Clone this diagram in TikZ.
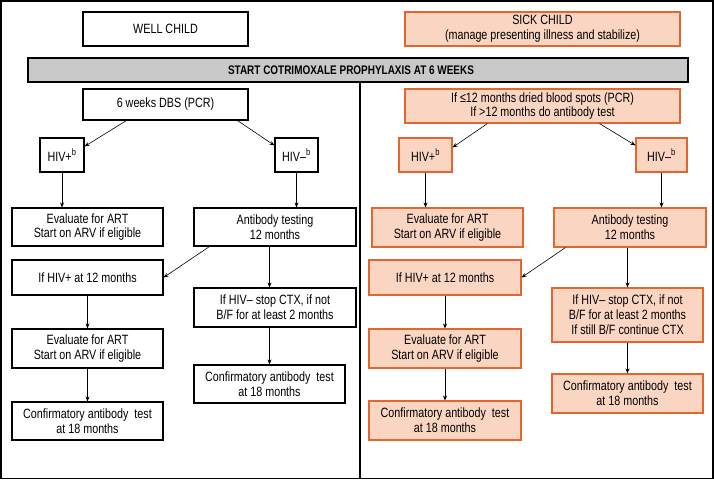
\documentclass[tikz,border=0pt]{standalone}
\usepackage{fontspec}
\setmainfont{Liberation Sans}[FakeStretch=0.8]
\usetikzlibrary{arrows.meta,calc}
\definecolor{sickfill}{HTML}{FAD6C2}
\definecolor{sickline}{HTML}{E2662E}
\definecolor{bannerfill}{HTML}{C9C9C9}
\begin{document}
\begin{tikzpicture}[x=1bp,y=-1bp,
  font=\fontsize{13.5}{15}\selectfont,
  wbox/.style={draw=black,line width=1.1pt,fill=white,align=center,inner sep=0pt},
  sbox/.style={draw=sickline,line width=1.1pt,fill=sickfill,align=center,inner sep=0pt},
  sz/.style 2 args={minimum width=#1bp,minimum height=#2bp},
  arr/.style={-{Stealth[length=5pt,width=4pt]},line width=0.6pt}]
\path[use as bounding box] (0,0) rectangle (714,480);
% frame and divider
\draw[line width=1.5pt] (1,1) rectangle (713,478.5);
\coordinate (divtop) at (360,82);
\coordinate (divbot) at (360,479);
\draw[line width=1.2pt] (divtop) -- (divbot);
% banner
\node[draw=black,line width=1.1pt,fill=bannerfill,sz={660}{24},font=\fontsize{12.5}{14}\selectfont\bfseries] (banner) at (358,70) {START COTRIMOXALE PROPHYLAXIS AT 6 WEEKS\hspace*{14bp}};
% left column
\node[wbox,sz={165}{34}] (well) at (165.5,29) {WELL CHILD};
\node[wbox,sz={165}{31}] (dbsL) at (165.5,104.5) {6 weeks DBS (PCR)};
\node[wbox,sz={44}{34}] (hivpL) at (62,155) {HIV+\textsuperscript{b}};
\node[wbox,sz={43}{34}] (hivmL) at (296.5,155) {HIV–\textsuperscript{b}};
\node[wbox,sz={151}{38}] (evalL) at (87.5,227) {Evaluate for ART\\Start on ARV if eligible};
\node[wbox,sz={162}{38}] (abL) at (275,227) {Antibody testing\\12 months};
\node[wbox,sz={151}{35}] (hiv12L) at (87.5,277.5) {If HIV+ at 12 months};
\node[wbox,sz={162}{39}] (ctxL) at (275,307.5) {If HIV– stop CTX, if not\\B/F for at least 2 months};
\node[wbox,sz={151}{39}] (eval2L) at (87.5,348.5) {Evaluate for ART\\Start on ARV if eligible};
\node[wbox,sz={151}{38}] (confL) at (87.5,421) {Confirmatory antibody~ test\\at 18 months};
\node[wbox,sz={151}{38}] (confRL) at (269.5,384) {Confirmatory antibody~ test\\at 18 months};
% right column
\node[sbox,sz={275}{34}] (sick) at (542.5,29) {SICK CHILD\\(manage presenting illness and stabilize)};
\node[sbox,sz={275}{34}] (pcr) at (542.5,106) {If ≤12 months dried blood spots (PCR)\\If >12 months do antibody test};
\node[sbox,sz={53}{34}] (hivpR) at (425.5,155) {HIV+\textsuperscript{b}};
\node[sbox,sz={51}{34}] (hivmR) at (661.5,155) {HIV–\textsuperscript{b}};
\node[sbox,sz={151}{39}] (evalR) at (447.5,227.5) {Evaluate for ART\\Start on ARV if eligible};
\node[sbox,sz={152}{39}] (abR) at (630,227.5) {Antibody testing\\12 months};
\node[sbox,sz={152}{35}] (hiv12R) at (445,277.5) {If HIV+ at 12 months};
\node[sbox,sz={151}{54}] (ctxR) at (627.5,315) {If HIV– stop CTX, if not\\B/F for at least 2 months\\If still B/F continue CTX};
\node[sbox,sz={152}{39}] (eval2R) at (445,348.5) {Evaluate for ART\\Start on ARV if eligible};
\node[sbox,sz={152}{39}] (confR) at (445,420.5) {Confirmatory antibody~ test\\at 18 months};
\node[sbox,sz={151}{39}] (confRR) at (627.5,393.5) {Confirmatory antibody~ test\\at 18 months};
% left arrows
\draw[arr] ($(dbsL.south west)+(44,0)$) -- ($(hivpL.north east)+(0,9)$);
\draw[arr] ($(dbsL.south west)+(155,0)$) -- ($(hivmL.north west)+(0,8)$);
\draw[arr] (hivpL.south) -- (hivpL.south |- evalL.north);
\draw[arr] (hivmL.south) -- (hivmL.south |- abL.north);
\draw[arr] ($(abL.south west)+(16,0)$) -- (hiv12L.east);
\draw[arr] (confRL.north |- abL.south) -- (confRL.north |- ctxL.north);
\draw[arr] (confRL.north |- ctxL.south) -- (confRL.north);
\draw[arr] (hiv12L.south) -- (eval2L.north);
\draw[arr] (eval2L.south) -- (confL.north);
% right arrows
\draw[arr] ($(pcr.south west)+(83,0)$) -- ($(hivpR.north east)+(0,10)$);
\draw[arr] ($(pcr.south west)+(195,0)$) -- ($(hivmR.north west)+(0,8)$);
\draw[arr] (hivpR.south) -- (hivpR.south |- evalR.north);
\draw[arr] (hivmR.south) -- (hivmR.south |- abR.north);
\draw[arr] ($(abR.south west)+(12,0)$) -- (hiv12R.east);
\draw[arr] (ctxR.north |- abR.south) -- (ctxR.north);
\draw[arr] (hiv12R.south) -- (eval2R.north);
\draw[arr] (eval2R.south) -- (confR.north);
\draw[arr] (ctxR.south) -- (confRR.north);
\end{tikzpicture}
\end{document}
